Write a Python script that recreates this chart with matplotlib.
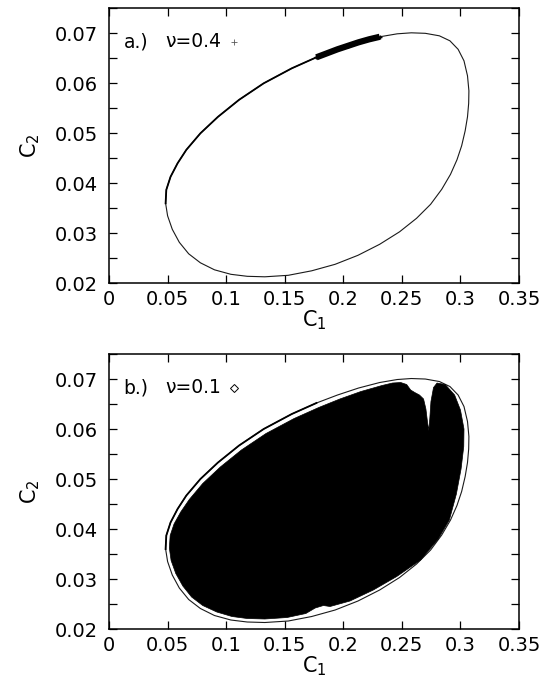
import matplotlib
matplotlib.use("Agg")
import matplotlib.pyplot as plt

plt.rcParams["font.family"] = ["DejaVu Sans"]
plt.rcParams["mathtext.default"] = "regular"

# boundary curve (same in both panels)
ell_c1 = [0.0483, 0.0489, 0.0525, 0.0585, 0.0660, 0.0780, 0.0930, 0.1110, 0.1320,
          0.1560, 0.1770, 0.1950, 0.2130, 0.2310, 0.2460, 0.2580, 0.2700, 0.2820,
          0.2910, 0.2980, 0.3030, 0.3060, 0.3072, 0.3070, 0.3060, 0.3040, 0.3010,
          0.2970, 0.2915, 0.2840, 0.2745, 0.2625, 0.2480, 0.2310, 0.2125, 0.1930,
          0.1730, 0.1530, 0.1330, 0.1180, 0.1040, 0.0900, 0.0780, 0.0680, 0.0600,
          0.0540, 0.0500, 0.0483]
ell_c2 = [0.0360, 0.0387, 0.0413, 0.0440, 0.0467, 0.0500, 0.0533, 0.0567, 0.0600,
          0.0630, 0.0652, 0.0668, 0.0682, 0.0693, 0.0699, 0.0701, 0.0700, 0.0695,
          0.0685, 0.0668, 0.0645, 0.0615, 0.0585, 0.0560, 0.0533, 0.0505, 0.0475,
          0.0447, 0.0418, 0.0388, 0.0358, 0.0330, 0.0303, 0.0278, 0.0256, 0.0238,
          0.0225, 0.0216, 0.0213, 0.0214, 0.0218, 0.0227, 0.0241, 0.0259, 0.0282,
          0.0308, 0.0335, 0.0360]

# a.) nu=0.4 : points pile up on a short arc of the boundary
a_c1 = [0.177, 0.186, 0.195, 0.204, 0.213, 0.222, 0.231]
a_c2 = [0.0652, 0.0660, 0.0668, 0.0675, 0.0682, 0.0688, 0.0693]
# sparser points along the upper left part of the curve
a_arc_c1 = [0.0483, 0.0489, 0.0525, 0.0585, 0.0660, 0.0780, 0.0930, 0.1110, 0.1320, 0.1560, 0.1770]
a_arc_c2 = [0.0360, 0.0387, 0.0413, 0.0440, 0.0467, 0.0500, 0.0533, 0.0567, 0.0600, 0.0630, 0.0652]

# b.) nu=0.1 : outline of the region covered by the points
b_c1 = [0.0515, 0.0522, 0.0555, 0.0612, 0.0685, 0.0800, 0.0950, 0.1130, 0.1340,
        0.1580, 0.1790, 0.1970, 0.2150, 0.2330, 0.2420, 0.2490, 0.2541, 0.2575,
        0.2610, 0.2650, 0.2685, 0.2705, 0.2718, 0.2730, 0.2738, 0.2748, 0.2770,
        0.2800, 0.2870, 0.2950, 0.3000, 0.3030, 0.3028, 0.3005, 0.2965, 0.2905,
        0.2810, 0.2660, 0.2456, 0.2256, 0.2057, 0.1887, 0.1830, 0.1760, 0.1680,
        0.1520, 0.1330, 0.1180, 0.1050, 0.0920, 0.0800, 0.0705, 0.0630, 0.0570,
        0.0530]
b_c2 = [0.0362, 0.0387, 0.0410, 0.0434, 0.0459, 0.0491, 0.0524, 0.0558, 0.0591,
        0.0621, 0.0643, 0.0660, 0.0675, 0.0687, 0.0692, 0.0693, 0.0689, 0.0678,
        0.0673, 0.0668, 0.0660, 0.0640, 0.0615, 0.0597, 0.0620, 0.0655, 0.0683,
        0.0692, 0.0689, 0.0668, 0.0638, 0.0600, 0.0565, 0.0520, 0.0470, 0.0418,
        0.0380, 0.0338, 0.0305, 0.0278, 0.0256, 0.0245, 0.0247, 0.0242, 0.0231,
        0.0223, 0.0220, 0.0221, 0.0225, 0.0234, 0.0247, 0.0264, 0.0286, 0.0311,
        0.0337]

x_ticks = [0, 0.05, 0.1, 0.15, 0.2, 0.25, 0.3, 0.35]
x_labels = ["0", "0.05", "0.1", "0.15", "0.2", "0.25", "0.3", "0.35"]
y_ticks = [0.02, 0.03, 0.04, 0.05, 0.06, 0.07]
y_labels = ["0.02", "0.03", "0.04", "0.05", "0.06", "0.07"]
y_minor = [0.025, 0.035, 0.045, 0.055, 0.065, 0.075]

panels = [("a.)", "\u03bd=0.4", "+"), ("b.)", "\u03bd=0.1", "D")]

fig = plt.figure(figsize=(5.52, 6.82), dpi=100)
ax_a = fig.add_axes([0.1975, 0.5846, 0.7428, 0.4032])
ax_b = fig.add_axes([0.1975, 0.0777, 0.7428, 0.4032])


def style_axes(ax, tag, label, marker):
    ax.set_xlim(0, 0.35)
    ax.set_ylim(0.02, 0.075)
    ax.set_xticks(x_ticks)
    ax.set_xticklabels(x_labels)
    ax.set_yticks(y_ticks)
    ax.set_yticklabels(y_labels)
    ax.set_yticks(y_minor, minor=True)
    ax.tick_params(which="both", direction="in", top=True, right=True,
                   length=6, width=0.9, labelsize=14, colors="black")
    ax.tick_params(axis="x", pad=5)
    ax.tick_params(axis="y", pad=8)
    for s in ax.spines.values():
        s.set_linewidth(1.1)
    ax.set_xlabel("C$_1$", fontsize=15, va="center")
    ax.set_ylabel("C$_2$", fontsize=15, va="center")
    ax.xaxis.set_label_coords(0.5, -0.135)
    ax.yaxis.set_label_coords(-0.193, 0.5)
    ax.text(0.0125, 0.0683, tag, fontsize=13.5, va="center", ha="left")
    ax.text(0.0478, 0.0683, label, fontsize=13.5, va="center", ha="left")
    if marker == "+":
        ax.plot([0.1065], [0.0683], marker="+", ms=5, mew=0.6, color="0.35", ls="none")
    else:
        ax.plot([0.107], [0.0683], marker="D", ms=4, mew=0.7, mfc="white",
                mec="black", ls="none")


# panel a
ax_a.plot(ell_c1, ell_c2, color="0.1", lw=0.8)
ax_a.plot(a_arc_c1, a_arc_c2, color="black", lw=1.3)
ax_a.plot(a_c1, a_c2, color="black", lw=4.5, solid_capstyle="butt", marker="+", ms=3)
style_axes(ax_a, *panels[0])

# panel b
ax_b.plot(ell_c1, ell_c2, color="0.1", lw=0.8, zorder=1)
ax_b.plot(a_arc_c1, a_arc_c2, color="black", lw=1.3, zorder=1)
ax_b.fill(b_c1, b_c2, color="black", lw=0.5, zorder=2)
style_axes(ax_b, *panels[1])

fig.savefig("out.png", dpi=100)
